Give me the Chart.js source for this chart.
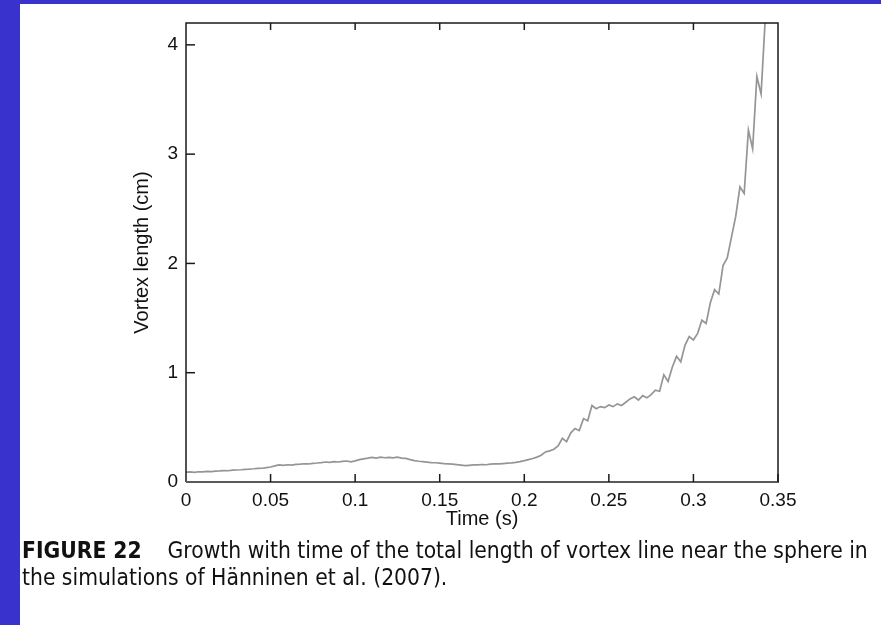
<!DOCTYPE html>
<html lang="en">
<head>
<meta charset="UTF-8">
<title>Vortex length vs time</title>
<script src="https://cdn.jsdelivr.net/npm/chart.js"></script>
<style>
  html, body { margin: 0; padding: 0; background: #fff; }
  body { width: 881px; height: 625px; position: relative; overflow: hidden; }
  .blue-left { position: absolute; left: 0; top: 0; width: 20px; height: 625px; background: #3a32cc; }
  .blue-top { position: absolute; left: 0; top: 0; width: 881px; height: 4px; background: #3a32cc; }
  .chart-box { position: absolute; left: 0; top: 0; width: 881px; height: 545px; }
  .caption { position: absolute; left: 22px; top: 537px; width: 860px;
             font-family: "DejaVu Sans Condensed", "DejaVu Sans", sans-serif; font-stretch: condensed;
             font-size: 17px; line-height: 27px; color: #111; white-space: nowrap; }
  .caption b { font-weight: bold; }
</style>
</head>
<body>
<div class="blue-left"></div>
<div class="blue-top"></div>
<div class="chart-box"><canvas id="vortexChart"></canvas></div>
<div class="caption">
  <div id="capLine1"><b>FIGURE 22</b>&nbsp;&nbsp;&nbsp; Growth with time of the total length of vortex line near the sphere in</div>
  <div>the simulations of Hänninen et al. (2007).</div>
</div>

<script>
// time (s)
const times = [
  0.0000, 0.0025, 0.0050, 0.0075, 0.0100, 0.0125, 0.0150, 0.0175, 0.0200, 0.0225,
  0.0250, 0.0275, 0.0300, 0.0325, 0.0350, 0.0375, 0.0400, 0.0425, 0.0450, 0.0475,
  0.0500, 0.0525, 0.0550, 0.0575, 0.0600, 0.0625, 0.0650, 0.0675, 0.0700, 0.0725,
  0.0750, 0.0775, 0.0800, 0.0825, 0.0850, 0.0875, 0.0900, 0.0925, 0.0950, 0.0975,
  0.1000, 0.1025, 0.1050, 0.1075, 0.1100, 0.1125, 0.1150, 0.1175, 0.1200, 0.1225,
  0.1250, 0.1275, 0.1300, 0.1325, 0.1350, 0.1375, 0.1400, 0.1425, 0.1450, 0.1475,
  0.1500, 0.1525, 0.1550, 0.1575, 0.1600, 0.1625, 0.1650, 0.1675, 0.1700, 0.1725,
  0.1750, 0.1775, 0.1800, 0.1825, 0.1850, 0.1875, 0.1900, 0.1925, 0.1950, 0.1975,
  0.2000, 0.2025, 0.2050, 0.2075, 0.2100, 0.2125, 0.2150, 0.2175, 0.2200, 0.2225,
  0.2250, 0.2275, 0.2300, 0.2325, 0.2350, 0.2375, 0.2400, 0.2425, 0.2450, 0.2475,
  0.2500, 0.2525, 0.2550, 0.2575, 0.2600, 0.2625, 0.2650, 0.2675, 0.2700, 0.2725,
  0.2750, 0.2775, 0.2800, 0.2825, 0.2850, 0.2875, 0.2900, 0.2925, 0.2950, 0.2975,
  0.3000, 0.3025, 0.3050, 0.3075, 0.3100, 0.3125, 0.3150, 0.3175, 0.3200, 0.3225,
  0.3250, 0.3275, 0.3300, 0.3325, 0.3350, 0.3375, 0.3400, 0.3425
];

// vortex length (cm)
const lengths = [
  0.090, 0.092, 0.089, 0.094, 0.093, 0.097, 0.095, 0.100, 0.101, 0.104,
  0.103, 0.108, 0.110, 0.112, 0.116, 0.118, 0.121, 0.125, 0.126, 0.131,
  0.137, 0.148, 0.156, 0.152, 0.158, 0.155, 0.161, 0.163, 0.167, 0.165,
  0.171, 0.174, 0.178, 0.183, 0.179, 0.186, 0.183, 0.189, 0.192, 0.185,
  0.193, 0.205, 0.212, 0.218, 0.225, 0.219, 0.228, 0.222, 0.226, 0.221,
  0.227, 0.219, 0.216, 0.205, 0.196, 0.190, 0.186, 0.182, 0.178, 0.176,
  0.172, 0.168, 0.166, 0.163, 0.159, 0.155, 0.150, 0.153, 0.156, 0.157,
  0.160, 0.158, 0.163, 0.165, 0.166, 0.169, 0.172, 0.175, 0.180, 0.186,
  0.195, 0.205, 0.215, 0.228, 0.245, 0.275, 0.285, 0.300, 0.330, 0.400,
  0.370, 0.450, 0.490, 0.470, 0.580, 0.560, 0.700, 0.670, 0.690, 0.680,
  0.705, 0.690, 0.715, 0.700, 0.730, 0.760, 0.780, 0.750, 0.790, 0.770,
  0.800, 0.840, 0.830, 0.980, 0.920, 1.050, 1.150, 1.100, 1.250, 1.330,
  1.300, 1.360, 1.480, 1.450, 1.640, 1.760, 1.720, 1.980, 2.050, 2.240,
  2.430, 2.700, 2.640, 3.220, 3.050, 3.710, 3.550, 4.250
];

const xTicks = [0, 0.05, 0.1, 0.15, 0.2, 0.25, 0.3, 0.35];
const yTicks = [0, 1, 2, 3, 4];

const tickFont = { family: '"Liberation Sans", Arial, sans-serif', size: 19 };
const titleFont = { family: '"Liberation Sans", Arial, sans-serif', size: 20 };

// frame with inward tick marks (MATLAB look)
const framePlugin = {
  id: 'frame',
  afterDraw(chart) {
    const { ctx, chartArea: a, scales } = chart;
    const tl = 9;
    ctx.save();
    ctx.lineCap = 'butt';
    // top, left, right
    ctx.strokeStyle = '#1a1a1a';
    ctx.lineWidth = 1.5;
    ctx.beginPath();
    ctx.moveTo(a.left, a.bottom); ctx.lineTo(a.left, a.top);
    ctx.lineTo(a.right, a.top); ctx.lineTo(a.right, a.bottom);
    ctx.stroke();
    // left ticks
    yTicks.forEach(v => {
      const y = scales.y.getPixelForValue(v);
      if (v === 0) return;
      ctx.beginPath(); ctx.moveTo(a.left, y); ctx.lineTo(a.left + tl, y); ctx.stroke();
    });
    // top ticks
    xTicks.forEach(v => {
      const x = scales.x.getPixelForValue(v);
      if (v === 0 || v === 0.35) return;
      ctx.beginPath(); ctx.moveTo(x, a.top); ctx.lineTo(x, a.top + tl - 2); ctx.stroke();
    });
    // bottom axis + ticks
    ctx.strokeStyle = '#5a5a5a';
    ctx.lineWidth = 2;
    ctx.beginPath(); ctx.moveTo(a.left, a.bottom); ctx.lineTo(a.right + 1, a.bottom); ctx.stroke();
    ctx.strokeStyle = '#1a1a1a';
    ctx.lineWidth = 1.5;
    xTicks.forEach(v => {
      const x = scales.x.getPixelForValue(v);
      if (v === 0) return;
      ctx.beginPath(); ctx.moveTo(x, a.bottom); ctx.lineTo(x, a.bottom - tl + 1); ctx.stroke();
    });
    ctx.restore();
  }
};

const ctx = document.getElementById('vortexChart').getContext('2d');
new Chart(ctx, {
  type: 'line',
  data: {
    datasets: [{
      label: 'Vortex length',
      data: times.map((t, i) => ({ x: t, y: lengths[i] })),
      borderColor: 'rgba(130,130,130,0.85)',
      borderWidth: 1.7,
      pointRadius: 0,
      tension: 0,
      fill: false
    }]
  },
  options: {
    responsive: true,
    maintainAspectRatio: false,
    animation: false,
    layout: { padding: { left: 118, right: 103, top: 23, bottom: 0 } },
    plugins: { legend: { display: false }, tooltip: { enabled: false } },
    scales: {
      x: {
        type: 'linear',
        min: 0,
        max: 0.35,
        afterBuildTicks: s => { s.ticks = xTicks.map(v => ({ value: v })); },
        afterFit: s => { s.height = 63; },
        grid: { display: false, drawTicks: false },
        border: { display: false },
        ticks: { color: '#111', font: tickFont, padding: 7, maxRotation: 0, autoSkip: false,
                 callback: v => String(v) },
        title: { display: true, text: 'Time (s)', color: '#111', font: titleFont, padding: { top: 0, bottom: 14 } }
      },
      y: {
        type: 'linear',
        min: 0,
        max: 4.2,
        afterBuildTicks: s => { s.ticks = yTicks.map(v => ({ value: v })); },
        afterFit: s => { s.width = 68; },
        grid: { display: false, drawTicks: false },
        border: { display: false },
        ticks: { color: '#111', font: tickFont, padding: 8, autoSkip: false,
                 callback: v => String(v) },
        title: { display: true, text: 'Vortex length (cm)', color: '#111', font: titleFont, padding: { top: 12, bottom: 0 } }
      }
    }
  },
  plugins: [framePlugin]
});

// fit caption line 1 to the width it has in the figure
const cap = document.getElementById('capLine1');
const span = document.createElement('span');
span.innerHTML = cap.innerHTML;
cap.innerHTML = '';
cap.appendChild(span);
const w = span.getBoundingClientRect().width;
document.querySelector('.caption').style.fontSize = (17 * 846 / w).toFixed(2) + 'px';
</script>
</body>
</html>
